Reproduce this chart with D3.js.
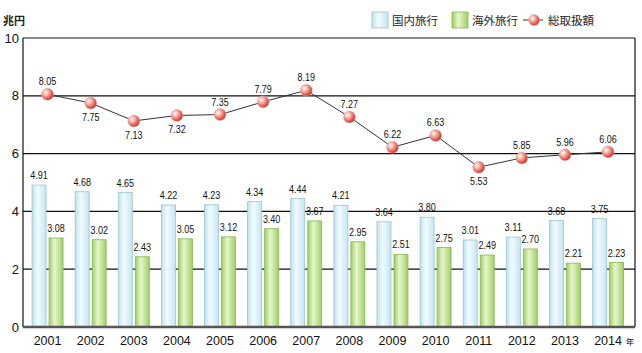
<!DOCTYPE html>
<html><head><meta charset="utf-8">
<script src="https://cdn.jsdelivr.net/npm/d3@7"></script>
<style>
body{margin:0;background:#fff;}
svg{display:block;}
</style></head>
<body>
<script>
const years = ["2001","2002","2003","2004","2005","2006","2007","2008","2009","2010","2011","2012","2013","2014"];
const domestic = [4.91,4.68,4.65,4.22,4.23,4.34,4.44,4.21,3.64,3.80,3.01,3.11,3.68,3.75];
const overseas = [3.08,3.02,2.43,3.05,3.12,3.40,3.67,2.95,2.51,2.75,2.49,2.70,2.21,2.23];
const total = [8.05,7.75,7.13,7.32,7.35,7.79,8.19,7.27,6.22,6.63,5.53,5.85,5.96,6.06];
const totalLabelBelow = [false,true,true,true,false,false,false,false,false,false,true,false,false,false];
const yTicks = [0,2,4,6,8,10];
const seriesNames = ["国内旅行","海外旅行","総取扱額"];
const unitLabel = "兆円";
const yearSuffix = "年";

(function(){
const W=642,H=353;
const svg=d3.select("body").append("svg").attr("width",W).attr("height",H);
const pL=23,pR=635,pT=38,pB=327;
const y=d3.scaleLinear().domain([0,10]).range([pB,pT]);
const x=d3.scaleBand().domain(years).range([26,629.6]).padding(0);
const cx=d=>x(d)+x.bandwidth()/2;
const numFont="'Liberation Sans Narrow','Arial Narrow','Liberation Sans',Arial,sans-serif";
const font="'Liberation Sans',Arial,sans-serif";
const jp="'Noto Sans CJK JP',sans-serif";
const LW=17.5;

const defs=svg.append("defs");
function hgrad(id,stops){
  const g=defs.append("linearGradient").attr("id",id).attr("x1","0").attr("x2","1").attr("y1","0").attr("y2","0");
  stops.forEach(s=>g.append("stop").attr("offset",s[0]).attr("stop-color",s[1]));
}
hgrad("gBlue",[[0,"#bde2f0"],[0.4,"#f2fbfe"],[1,"#c4e6f3"]]);
hgrad("gGreen",[[0,"#9ccf62"],[0.4,"#e6f6cc"],[1,"#9fd066"]]);
const rg=defs.append("radialGradient").attr("id","gRed").attr("cx","0.35").attr("cy","0.35").attr("r","0.7");
rg.append("stop").attr("offset",0).attr("stop-color","#ffffff");
rg.append("stop").attr("offset",0.35).attr("stop-color","#f7b2a6");
rg.append("stop").attr("offset",1).attr("stop-color","#d8231a");

// grid
svg.append("g").selectAll("line").data(yTicks.filter(t=>t>0)).join("line")
  .attr("x1",pL).attr("x2",pR).attr("y1",d=>y(d)).attr("y2",d=>y(d))
  .attr("stroke","#111").attr("stroke-width",1.2);
svg.append("line").attr("x1",pR).attr("x2",pR).attr("y1",pT).attr("y2",pB).attr("stroke","#111").attr("stroke-width",1.2);
svg.append("line").attr("x1",pL).attr("x2",pL).attr("y1",pT).attr("y2",pB).attr("stroke","#111").attr("stroke-width",1.2);

// y axis labels
const yAxis=d3.axisLeft(y).tickValues(yTicks).tickSize(0).tickPadding(4).tickFormat(d3.format("d"));
const ya=svg.append("g").attr("transform",`translate(${pL},0)`).call(yAxis);
ya.select(".domain").remove();
ya.selectAll("text").attr("font-family",font).attr("font-size",13).attr("fill","#111");

// bars
svg.append("g").selectAll("rect").data(years).join("rect")
  .attr("x",d=>cx(d)-15.5).attr("width",14).attr("y",(d,i)=>y(domestic[i])).attr("height",(d,i)=>pB-y(domestic[i]))
  .attr("fill","url(#gBlue)").attr("stroke","#9cc3d2").attr("stroke-width",0.8);
svg.append("g").selectAll("rect").data(years).join("rect")
  .attr("x",d=>cx(d)+1.5).attr("width",14).attr("y",(d,i)=>y(overseas[i])).attr("height",(d,i)=>pB-y(overseas[i]))
  .attr("fill","url(#gGreen)").attr("stroke","#86b955").attr("stroke-width",0.8);

// bar labels
const fmt=d3.format(".2f");
svg.append("g").selectAll("text").data(years).join("text")
  .attr("x",d=>cx(d)-8.5).attr("y",(d,i)=>y(domestic[i])-6).attr("text-anchor","middle")
  .attr("textLength",LW).attr("lengthAdjust","spacingAndGlyphs")
  .attr("font-family",numFont).attr("font-size",11.5).attr("fill","#111").text((d,i)=>fmt(domestic[i]));
svg.append("g").selectAll("text").data(years).join("text")
  .attr("x",d=>cx(d)+8.5).attr("y",(d,i)=>y(overseas[i])-6).attr("text-anchor","middle")
  .attr("textLength",LW).attr("lengthAdjust","spacingAndGlyphs")
  .attr("font-family",numFont).attr("font-size",11.5).attr("fill","#111").text((d,i)=>fmt(overseas[i]));

// bottom axis
svg.append("line").attr("x1",pL).attr("x2",pR).attr("y1",pB).attr("y2",pB).attr("stroke","#555").attr("stroke-width",2.5);
const xa=svg.append("g").attr("transform",`translate(0,${pB})`).call(d3.axisBottom(x).tickSize(0).tickPadding(9));
xa.select(".domain").remove();
xa.selectAll("text").attr("font-family",font).attr("font-size",12.5).attr("fill","#111");
svg.append("text").attr("x",630).attr("y",345).attr("text-anchor","middle").attr("font-family",jp).attr("font-size",8.5).attr("fill","#111").text(yearSuffix);

// line
const line=d3.line().x((d,i)=>cx(years[i])).y(d=>y(d));
svg.append("path").datum(total).attr("d",line).attr("fill","none").attr("stroke","#333").attr("stroke-width",1);
svg.append("g").selectAll("circle").data(total).join("circle")
  .attr("cx",(d,i)=>cx(years[i])).attr("cy",d=>y(d)).attr("r",6)
  .attr("fill","url(#gRed)").attr("stroke","#c9b8b0").attr("stroke-width",0.5);
svg.append("g").selectAll("text").data(total).join("text")
  .attr("x",(d,i)=>cx(years[i])).attr("y",(d,i)=>totalLabelBelow[i]?y(d)+18:y(d)-9)
  .attr("textLength",LW).attr("lengthAdjust","spacingAndGlyphs")
  .attr("text-anchor","middle").attr("font-family",numFont).attr("font-size",11.5).attr("fill","#111").text(d=>fmt(d));

// unit
svg.append("text").attr("x",3).attr("y",25).attr("font-family",jp).attr("font-size",11).attr("font-weight","bold").attr("fill","#222").text(unitLabel);

// legend
const lg=svg.append("g");
lg.append("rect").attr("x",372).attr("y",12).attr("width",16).attr("height",16).attr("fill","url(#gBlue)").attr("stroke","#9cc3d2").attr("stroke-width",0.8);
lg.append("text").attr("x",392).attr("y",24.5).attr("font-family",jp).attr("font-size",11.5).attr("fill","#222").text(seriesNames[0]);
lg.append("rect").attr("x",452).attr("y",12).attr("width",16).attr("height",16).attr("fill","url(#gGreen)").attr("stroke","#86b955").attr("stroke-width",0.8);
lg.append("text").attr("x",472).attr("y",24.5).attr("font-family",jp).attr("font-size",11.5).attr("fill","#222").text(seriesNames[1]);
lg.append("line").attr("x1",523).attr("x2",543).attr("y1",20).attr("y2",20).attr("stroke","#333").attr("stroke-width",1);
lg.append("circle").attr("cx",534).attr("cy",20).attr("r",5.5).attr("fill","url(#gRed)").attr("stroke","#c9b8b0").attr("stroke-width",0.5);
lg.append("text").attr("x",548).attr("y",24.5).attr("font-family",jp).attr("font-size",11.5).attr("fill","#222").text(seriesNames[2]);
})();
</script>
</body></html>
